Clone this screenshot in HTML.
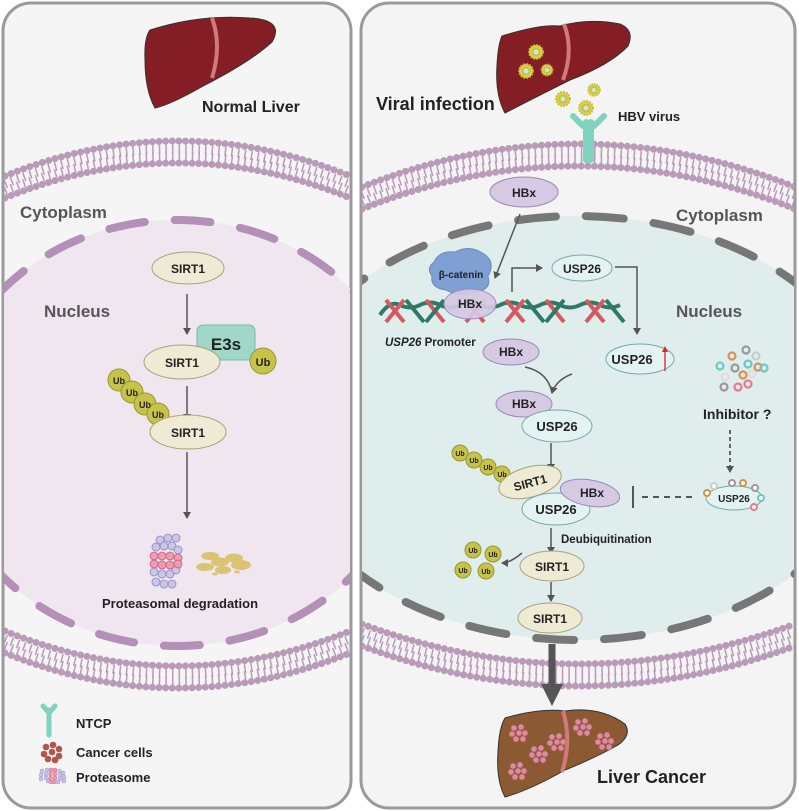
<!DOCTYPE html>
<html><head><meta charset="utf-8"><style>
html,body{margin:0;padding:0;background:#fff}
svg{display:block}
text{font-family:"Liberation Sans",Arial,sans-serif;font-weight:bold}
</style></head><body>
<svg width="799" height="811" viewBox="0 0 799 811" xmlns="http://www.w3.org/2000/svg">
<defs>
<marker id="ah" markerWidth="8" markerHeight="8" refX="6" refY="4" orient="auto" markerUnits="userSpaceOnUse"><path d="M0,0 L7,4 L0,8 Z" fill="#555"/></marker>
<marker id="ahb" markerWidth="30" markerHeight="30" refX="10" refY="11" orient="auto" markerUnits="userSpaceOnUse"><path d="M0,0 L22,11 L0,22 Z" fill="#555"/></marker>
<clipPath id="cl"><rect x="4" y="4" width="346" height="803" rx="27"/></clipPath>
<clipPath id="cr"><rect x="362" y="4" width="432" height="803" rx="27"/></clipPath>
<path id="mtl" d="M5,187 Q177,117 350,187"/>
<path id="mbl" d="M5,642 Q177,712 350,642"/>
<path id="mtr" d="M362,198 Q578,112 795,198"/>
<path id="mbr" d="M362,635 Q578,715 795,635"/>
<g id="prot">
<g fill="#c9c6e6" stroke="#8d88bf" stroke-width="0.8">
<circle cx="-6" cy="-22" r="4"/><circle cx="2" cy="-24" r="4"/><circle cx="10" cy="-24" r="4"/><circle cx="-10" cy="-15" r="4"/><circle cx="-2" cy="-16" r="4"/><circle cx="6" cy="-16" r="4"/><circle cx="12" cy="-12" r="4"/>
<circle cx="-12" cy="10" r="4"/><circle cx="-4" cy="12" r="4"/><circle cx="4" cy="12" r="4"/><circle cx="10" cy="8" r="4"/><circle cx="-10" cy="20" r="4"/><circle cx="-2" cy="22" r="4"/><circle cx="6" cy="22" r="4"/>
</g>
<g fill="#ef9bb0" stroke="#c85c7a" stroke-width="0.8">
<circle cx="-12" cy="-6" r="4"/><circle cx="-4" cy="-6" r="4"/><circle cx="4" cy="-6" r="4"/><circle cx="12" cy="-4" r="4"/><circle cx="-12" cy="2" r="4"/><circle cx="-4" cy="3" r="4"/><circle cx="4" cy="3" r="4"/><circle cx="12" cy="2" r="4"/>
</g></g>
<g id="vir"><circle r="7" fill="#d8d24a" stroke="#c3b934" stroke-width="2" stroke-dasharray="1.5 1.5"/><circle r="4.5" fill="#c7c23c"/><circle r="2.5" fill="#cfe3ea"/></g>
<g id="cc" fill="#d98f9b" stroke="#b25566" stroke-width="0.6"><circle cx="-4" cy="-4" r="3"/><circle cx="3" cy="-5" r="3"/><circle cx="-6" cy="2" r="3"/><circle cx="1" cy="1" r="3"/><circle cx="7" cy="1" r="3"/><circle cx="-2" cy="7" r="3"/><circle cx="5" cy="7" r="3"/></g>
</defs>

<rect x="3" y="3" width="348" height="805" rx="28" fill="#f5f5f5" stroke="#9a9a9a" stroke-width="3"/>
<rect x="361" y="3" width="434" height="805" rx="28" fill="#f4f4f4" stroke="#9a9a9a" stroke-width="3"/>

<g clip-path="url(#cl)">
<ellipse cx="177" cy="433" rx="236" ry="213" fill="#efe6f0"/>
<ellipse cx="177" cy="433" rx="236" ry="213" fill="none" stroke="#b48fb8" stroke-width="8" stroke-dasharray="36 30" stroke-linecap="round"/>
<g fill="none" stroke="#b99ab9">
<use href="#mtl" transform="translate(0,-11)" stroke-width="7" stroke-dasharray="0.01 6.6" stroke-linecap="round"/>
<use href="#mtl" transform="translate(0,11)" stroke-width="7" stroke-dasharray="0.01 6.6" stroke-linecap="round"/>
<use href="#mtl" transform="translate(0,-3)" stroke-width="9" stroke-dasharray="1.5 5.1"/>
<use href="#mtl" transform="translate(0,4)" stroke-width="9" stroke-dasharray="1.5 5.1"/>
<use href="#mbl" transform="translate(0,-11)" stroke-width="7" stroke-dasharray="0.01 6.6" stroke-linecap="round"/>
<use href="#mbl" transform="translate(0,11)" stroke-width="7" stroke-dasharray="0.01 6.6" stroke-linecap="round"/>
<use href="#mbl" transform="translate(0,-3)" stroke-width="9" stroke-dasharray="1.5 5.1"/>
<use href="#mbl" transform="translate(0,4)" stroke-width="9" stroke-dasharray="1.5 5.1"/>
</g>
</g>
<path d="M150,30 Q200,14 250,18 Q285,20 272,42 Q250,62 205,85 Q170,105 155,108 Q145,90 145,60 Q144,38 150,30 Z" fill="#851d24" stroke="#333" stroke-width="1"/>
<path d="M212,18 Q222,45 212,78" stroke="#d07a7a" stroke-width="4" fill="none"/>
<text x="202" y="112" font-size="16" fill="#222">Normal Liver</text>
<text x="20" y="218" font-size="17" fill="#555">Cytoplasm</text>
<text x="44" y="317" font-size="17" fill="#555">Nucleus</text>

<ellipse cx="188" cy="268" rx="36" ry="16" fill="#efead4" stroke="#aaa07a"/>
<text x="188" y="273" font-size="12" text-anchor="middle" fill="#222">SIRT1</text>
<line x1="187" y1="294" x2="187" y2="334" stroke="#555" stroke-width="1.5" marker-end="url(#ah)"/>
<rect x="197" y="325" width="58" height="35" rx="6" fill="#9fd8c8" stroke="#79b8a8"/>
<text x="226" y="350" font-size="17" text-anchor="middle" fill="#222">E3s</text>
<circle cx="263" cy="361" r="13" fill="#c7c34a" stroke="#999530"/>
<text x="263" y="366" font-size="11" text-anchor="middle" fill="#222">Ub</text>
<ellipse cx="182" cy="362" rx="38" ry="17" fill="#efead4" stroke="#aaa07a"/>
<text x="182" y="367" font-size="12" text-anchor="middle" fill="#222">SIRT1</text>
<line x1="187" y1="386" x2="187" y2="420" stroke="#555" stroke-width="1.5" marker-end="url(#ah)"/>
<g fill="#c7c34a" stroke="#999530">
<circle cx="119" cy="380" r="11"/><circle cx="132" cy="392" r="11"/><circle cx="145" cy="404" r="11"/><circle cx="158" cy="414" r="11"/></g>
<g font-size="9" text-anchor="middle" fill="#222"><text x="119" y="384">Ub</text><text x="132" y="396">Ub</text><text x="145" y="408">Ub</text><text x="158" y="418">Ub</text></g>
<ellipse cx="188" cy="432" rx="38" ry="17" fill="#efead4" stroke="#aaa07a"/>
<text x="188" y="437" font-size="12" text-anchor="middle" fill="#222">SIRT1</text>
<line x1="187" y1="452" x2="187" y2="518" stroke="#555" stroke-width="1.5" marker-end="url(#ah)"/>
<use href="#prot" transform="translate(166,562)"/>
<g fill="#dbc373"><ellipse cx="210" cy="556" rx="9" ry="4"/><ellipse cx="220" cy="562" rx="9" ry="4.5"/><ellipse cx="234" cy="558" rx="9" ry="4.5"/><ellipse cx="241" cy="565" rx="10" ry="5"/><ellipse cx="205" cy="567" rx="9" ry="4"/><ellipse cx="223" cy="570" rx="8" ry="4"/><ellipse cx="215" cy="574" rx="3" ry="1.5"/><ellipse cx="237" cy="572" rx="3" ry="1.5"/></g>
<text x="180" y="608" font-size="13" text-anchor="middle" fill="#222">Proteasomal degradation</text>
<path d="M49,710 L49,735 M49,713 L43,706 M49,713 L55,706" stroke="#7fd3bf" stroke-width="5" fill="none" stroke-linecap="round"/>
<text x="76" y="728" font-size="13" fill="#222">NTCP</text>
<g transform="translate(52,752)" fill="#b0564a"><circle cx="-6" cy="-5" r="3.3"/><circle cx="1" cy="-7" r="3.3"/><circle cx="7" cy="-3" r="3.3"/><circle cx="-8" cy="2" r="3.3"/><circle cx="0" cy="0" r="3.3"/><circle cx="7" cy="4" r="3.3"/><circle cx="-4" cy="7" r="3.3"/><circle cx="3" cy="8" r="3.3"/></g>
<text x="76" y="757" font-size="13" fill="#222">Cancer cells</text>
<g transform="translate(52,776) rotate(90) scale(0.5)"><use href="#prot"/></g>
<text x="76" y="782" font-size="13" fill="#222">Proteasome</text>

<g clip-path="url(#cr)">
<ellipse cx="577" cy="428" rx="300" ry="212" fill="#dfedec"/>
<ellipse cx="577" cy="428" rx="300" ry="212" fill="none" stroke="#777" stroke-width="8" stroke-dasharray="38 30" stroke-linecap="round"/>
<g fill="none" stroke="#b99ab9">
<use href="#mtr" transform="translate(0,-11)" stroke-width="7" stroke-dasharray="0.01 6.6" stroke-linecap="round"/>
<use href="#mtr" transform="translate(0,11)" stroke-width="7" stroke-dasharray="0.01 6.6" stroke-linecap="round"/>
<use href="#mtr" transform="translate(0,-3)" stroke-width="9" stroke-dasharray="1.5 5.1"/>
<use href="#mtr" transform="translate(0,4)" stroke-width="9" stroke-dasharray="1.5 5.1"/>
<use href="#mbr" transform="translate(0,-11)" stroke-width="7" stroke-dasharray="0.01 6.6" stroke-linecap="round"/>
<use href="#mbr" transform="translate(0,11)" stroke-width="7" stroke-dasharray="0.01 6.6" stroke-linecap="round"/>
<use href="#mbr" transform="translate(0,-3)" stroke-width="9" stroke-dasharray="1.5 5.1"/>
<use href="#mbr" transform="translate(0,4)" stroke-width="9" stroke-dasharray="1.5 5.1"/>
</g>
</g>
<path d="M502,36 Q540,24 560,26 Q590,18 620,24 Q635,30 628,46 Q610,65 570,80 Q530,100 505,113 Q495,95 497,65 Q498,45 502,36 Z" fill="#851d24" stroke="#333" stroke-width="1"/>
<path d="M564,24 Q574,50 563,80" stroke="#d07a7a" stroke-width="4" fill="none"/>
<use href="#vir" transform="translate(536,52)"/><use href="#vir" transform="translate(526,71)"/><use href="#vir" transform="translate(547,70) scale(0.8)"/>
<use href="#vir" transform="translate(563,99)"/><use href="#vir" transform="translate(594,90) scale(0.85)"/><use href="#vir" transform="translate(586,108)"/>
<text x="376" y="110" font-size="18" fill="#222">Viral infection</text>
<text x="618" y="121" font-size="13" fill="#222">HBV virus</text>
<path d="M586,122 L586,160 M591,122 L591,160 M583,126 L573,116 M594,126 L604,116" stroke="#7fd3bf" stroke-width="6" fill="none" stroke-linecap="round"/>

<ellipse cx="524" cy="192" rx="34" ry="15" fill="#d6c9e4" stroke="#9a88b5"/>
<text x="524" y="197" font-size="12" text-anchor="middle" fill="#222">HBx</text>
<text x="676" y="221" font-size="17" fill="#555">Cytoplasm</text>
<text x="676" y="317" font-size="17" fill="#555">Nucleus</text>
<line x1="520" y1="214" x2="495" y2="278" stroke="#555" stroke-width="1.5" marker-end="url(#ah)"/>
<path d="M380,315 Q390,300 400,305 T420,305 T440,305 T460,305 T480,305 T500,305 T520,305 T540,305 T560,305 T580,305 T600,305 T620,305" stroke="#2f7a66" stroke-width="4" fill="none"/>
<g stroke="#d85760" stroke-width="4" fill="none">
<path d="M386,300 L404,322 M404,300 L386,322 M426,300 L444,322 M466,300 L484,322 M484,300 L466,322 M506,300 L524,322 M524,300 L506,322 M546,300 L564,322 M586,300 L604,322 M604,300 L586,322"/></g>
<g stroke="#2f7a66" stroke-width="4" fill="none"><path d="M444,300 L426,322 M406,300 L424,322 M564,300 L546,322 M526,300 L544,322 M606,300 L624,322"/></g>
<path d="M434,262 Q440,250 455,252 Q470,244 484,254 Q496,262 488,276 Q492,290 476,292 Q460,298 446,290 Q430,288 432,276 Q426,268 434,262 Z" fill="#7fa0d3" stroke="#6a89bd"/>
<text x="461" y="278" font-size="10" text-anchor="middle" fill="#222">β-catenin</text>
<ellipse cx="470" cy="304" rx="26" ry="15" fill="#d6c9e4" stroke="#9a88b5" opacity="0.92"/>
<text x="470" y="308" font-size="12" text-anchor="middle" fill="#222">HBx</text>
<path d="M512,292 L512,268 L542,268" stroke="#555" stroke-width="1.5" fill="none" marker-end="url(#ah)"/>
<ellipse cx="582" cy="268" rx="30" ry="13" fill="#e2f3f1" stroke="#77aaa6"/>
<text x="582" y="273" font-size="12" text-anchor="middle" fill="#222">USP26</text>
<path d="M615,267 L637,267 L637,334" stroke="#555" stroke-width="1.5" fill="none" marker-end="url(#ah)"/>
<text x="385" y="346" font-size="11.5" fill="#222"><tspan font-style="italic">USP26</tspan> Promoter</text>
<ellipse cx="511" cy="352" rx="28" ry="13" fill="#d6c9e4" stroke="#9a88b5"/>
<text x="511" y="356" font-size="12" text-anchor="middle" fill="#222">HBx</text>
<ellipse cx="640" cy="359" rx="34" ry="15" fill="#e2f3f1" stroke="#77aaa6"/>
<text x="632" y="364" font-size="13" text-anchor="middle" fill="#222">USP26</text>
<line x1="629" y1="371" x2="629" y2="352" stroke="#d22" stroke-width="1.3" transform="translate(36,0)"/>
<path d="M662,352 L665,346 L668,352 Z" fill="#d22"/>
<path d="M525,367 Q548,372 552,393" stroke="#555" stroke-width="1.5" fill="none"/>
<path d="M572,374 Q556,380 552,393" stroke="#555" stroke-width="1.5" fill="none" marker-end="url(#ah)"/>
<ellipse cx="524" cy="404" rx="28" ry="13" fill="#d6c9e4" stroke="#9a88b5"/>
<text x="524" y="408" font-size="12" text-anchor="middle" fill="#222">HBx</text>
<ellipse cx="557" cy="426" rx="35" ry="16" fill="#e2f3f1" stroke="#77aaa6"/>
<text x="557" y="431" font-size="13" text-anchor="middle" fill="#222">USP26</text>
<line x1="551" y1="443" x2="551" y2="470" stroke="#555" stroke-width="1.5" marker-end="url(#ah)"/>
<g fill="#c7c34a" stroke="#999530"><circle cx="460" cy="453" r="8"/><circle cx="474" cy="460" r="8"/><circle cx="488" cy="467" r="8"/><circle cx="502" cy="474" r="8"/></g>
<g font-size="7" text-anchor="middle" fill="#222"><text x="460" y="456">Ub</text><text x="474" y="463">Ub</text><text x="488" y="470">Ub</text><text x="502" y="477">Ub</text></g>
<ellipse cx="530" cy="482" rx="32" ry="15" transform="rotate(-15 530 482)" fill="#efead4" stroke="#aaa07a"/>
<text x="530" y="487" font-size="12" text-anchor="middle" fill="#222" transform="rotate(-15 530 482)">SIRT1</text>
<ellipse cx="556" cy="509" rx="34" ry="16" fill="#e2f3f1" stroke="#77aaa6"/>
<text x="556" y="514" font-size="13" text-anchor="middle" fill="#222">USP26</text>
<ellipse cx="590" cy="493" rx="30" ry="13" transform="rotate(10 590 493)" fill="#d6c9e4" stroke="#9a88b5"/>
<text x="592" y="497" font-size="12" text-anchor="middle" fill="#222">HBx</text>
<line x1="633" y1="486" x2="633" y2="508" stroke="#555" stroke-width="2"/>
<line x1="642" y1="497" x2="692" y2="497" stroke="#555" stroke-width="2" stroke-dasharray="6 5"/>
<g fill="none" stroke-width="2.2">
<circle cx="720" cy="366" r="3.5" stroke="#6dc7c9"/><circle cx="732" cy="356" r="3.5" stroke="#d7914e"/><circle cx="746" cy="350" r="3.5" stroke="#999"/><circle cx="756" cy="356" r="3.5" stroke="#ccc"/><circle cx="735" cy="368" r="3.5" stroke="#999"/><circle cx="748" cy="364" r="3.5" stroke="#6dc7c9"/><circle cx="758" cy="367" r="3.5" stroke="#d7914e"/><circle cx="764" cy="368" r="3.5" stroke="#6dc7c9"/><circle cx="725" cy="377" r="3.5" stroke="#ddd"/><circle cx="743" cy="375" r="3.5" stroke="#d7914e"/><circle cx="752" cy="374" r="3.5" stroke="#ddd"/><circle cx="724" cy="387" r="3.5" stroke="#999"/><circle cx="738" cy="387" r="3.5" stroke="#e67b8c"/><circle cx="748" cy="384" r="3.5" stroke="#e67b8c"/></g>
<text x="703" y="419" font-size="14" fill="#222">Inhibitor ?</text>
<line x1="730" y1="430" x2="730" y2="472" stroke="#555" stroke-width="1.8" stroke-dasharray="4 3" marker-end="url(#ah)"/>
<ellipse cx="734" cy="498" rx="28" ry="12" fill="#e2f3f1" stroke="#77aaa6"/>
<text x="734" y="502" font-size="10" text-anchor="middle" fill="#222">USP26</text>
<g fill="#fff" stroke-width="2"><circle cx="707" cy="493" r="3" stroke="#d7914e"/><circle cx="714" cy="486" r="3" stroke="#ccc"/><circle cx="732" cy="483" r="3" stroke="#999"/><circle cx="743" cy="483" r="3" stroke="#d7914e"/><circle cx="755" cy="488" r="3" stroke="#999"/><circle cx="761" cy="498" r="3" stroke="#6dc7c9"/><circle cx="754" cy="507" r="3" stroke="#e67b8c"/></g>
<line x1="551" y1="528" x2="551" y2="553" stroke="#555" stroke-width="1.5" marker-end="url(#ah)"/>
<text x="561" y="543" font-size="11.5" fill="#222">Deubiquitination</text>
<ellipse cx="552" cy="566" rx="32" ry="15" fill="#efead4" stroke="#aaa07a"/>
<text x="552" y="571" font-size="12" text-anchor="middle" fill="#222">SIRT1</text>
<path d="M522,553 Q510,563 502,563" stroke="#555" stroke-width="1.5" fill="none" marker-end="url(#ah)"/>
<g fill="#c7c34a" stroke="#999530"><circle cx="473" cy="550" r="8"/><circle cx="493" cy="554" r="8"/><circle cx="463" cy="570" r="8"/><circle cx="486" cy="571" r="8"/></g>
<g font-size="7" text-anchor="middle" fill="#222"><text x="473" y="553">Ub</text><text x="493" y="557">Ub</text><text x="463" y="573">Ub</text><text x="486" y="574">Ub</text></g>
<line x1="551" y1="582" x2="551" y2="601" stroke="#555" stroke-width="1.5" marker-end="url(#ah)"/>
<ellipse cx="550" cy="618" rx="32" ry="15" fill="#efead4" stroke="#aaa07a"/>
<text x="550" y="623" font-size="12" text-anchor="middle" fill="#222">SIRT1</text>
<line x1="552" y1="644" x2="552" y2="694" stroke="#555" stroke-width="7" marker-end="url(#ahb)"/>
<path d="M505,718 Q540,708 565,711 Q600,706 625,724 Q632,735 618,745 Q595,758 565,770 Q530,790 505,797 Q496,780 498,752 Q499,728 505,718 Z" fill="#8b5a33" stroke="#333" stroke-width="1"/>
<path d="M563,711 Q572,740 562,772" stroke="#d07a7a" stroke-width="4" fill="none"/>
<use href="#cc" transform="translate(518,732)"/><use href="#cc" transform="translate(556,741)"/><use href="#cc" transform="translate(538,753)"/><use href="#cc" transform="translate(517,770)"/><use href="#cc" transform="translate(582,726)"/><use href="#cc" transform="translate(604,740)"/>
<text x="597" y="783" font-size="18" fill="#222">Liver Cancer</text>
</svg>
</body></html>
